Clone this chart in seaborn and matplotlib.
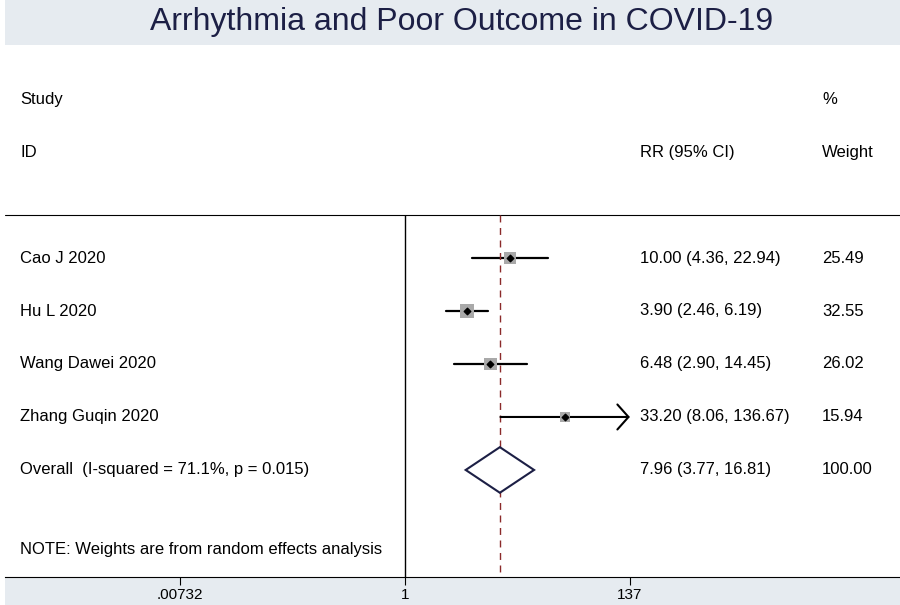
import numpy as np
import pandas as pd
import matplotlib.pyplot as plt
import matplotlib.transforms as mtransforms
from matplotlib.patches import Rectangle
import seaborn as sns

studies = ['Cao J 2020', 'Hu L 2020', 'Wang Dawei 2020', 'Zhang Guqin 2020']
rr = [10.00, 3.90, 6.48, 33.20]
lo = [4.36, 2.46, 2.90, 8.06]
hi = [22.94, 6.19, 14.45, 136.67]
weights = [25.49, 32.55, 26.02, 15.94]
overall = [7.96, 3.77, 16.81]
overall_label = 'Overall  (I-squared = 71.1%, p = 0.015)'
note = 'NOTE: Weights are from random effects analysis'
tick_vals = [0.00732, 1, 137]
tick_labels = ['.00732', '1', '137']

df = pd.DataFrame({'study': studies, 'rr': rr, 'lo': lo, 'hi': hi, 'w': weights})
df['row'] = np.arange(1, len(df) + 1)

sns.set_style('white')
plt.rcParams['font.family'] = ['Liberation Sans', 'DejaVu Sans']
plt.rcParams['text.color'] = 'black'
plt.rcParams['xtick.color'] = 'black'

bg = '#e6ebf0'
navy = '#1c1f45'
fig = plt.figure(figsize=(9, 6.05), dpi=100, facecolor=bg)
fig.patches.append(Rectangle((0, 0), 5 / 900, 1, transform=fig.transFigure,
                             facecolor='white', edgecolor='none', zorder=-1))

# axes: white panel from y=45 to 577 px, full width
ax = fig.add_axes([5 / 900, 28 / 605, 895 / 900, 532 / 605])
ax.set_facecolor('white')

ymin_line = 0.19
# CI lines (upper limit beyond the axis range gets an arrow)
for _, r in df.iterrows():
    if r['hi'] > 100:
        ax.annotate('', xy=(r['hi'], r['row']), xytext=(r['lo'], r['row']),
                    arrowprops=dict(arrowstyle='->,head_length=0.8,head_width=0.9',
                                    color='black', lw=1.5, shrinkA=0, shrinkB=0))
    else:
        ax.plot([r['lo'], r['hi']], [r['row'], r['row']], color='black', lw=1.6, zorder=2)

sns.scatterplot(data=df, x='rr', y='row', size='w', sizes=(0, 95), size_norm=(0, 32.55),
                marker='s', color='#a9a9a9', linewidth=0, legend=False, ax=ax, zorder=3)
ax.scatter(df['rr'], df['row'], marker='D', s=11, color='black', zorder=4)

# overall diamond
oy = 5
ax.fill([overall[1], overall[0], overall[2], overall[0], overall[1]],
        [oy, oy - 0.43, oy, oy + 0.43, oy], facecolor='white', edgecolor=navy, lw=1.5, zorder=3)

ax.set_xscale('log')
# 1 at x=405 px, 137 at 630 px
ppl = 225 / np.log(137)
ax.set_xlim(np.exp((5 - 405) / ppl), np.exp((900 - 405) / ppl))
ax.set_ylim(7.02, -3.02)
ax.set_xlabel('')
ax.set_ylabel('')
for s in ['top', 'left', 'right']:
    ax.spines[s].set_visible(False)
ax.spines['bottom'].set_color('black')
ax.spines['bottom'].set_linewidth(0.8)
ax.set_yticks([])
ax.set_xticks(tick_vals)
ax.set_xticklabels(tick_labels, fontsize=11, color='black')
ax.xaxis.set_minor_locator(plt.NullLocator())
ax.tick_params(axis='x', bottom=True, direction='out', length=5.5, width=0.8,
               color='black', pad=2.5)

ax.axhline(ymin_line, color='black', lw=0.8)
ax.vlines(1, ymin_line, 7.02, color='black', lw=1.0)
ax.vlines(overall[0], ymin_line, 7.02, color='#8b2a2a', lw=1.0, linestyles=(0, (5, 4)))

# text columns
tr = mtransforms.blended_transform_factory(fig.transFigure, ax.transData)
fs = 12
x_lab, x_rr, x_w = 20 / 900, 640 / 900, 822 / 900
ax.text(x_lab, -2, 'Study', transform=tr, fontsize=fs, va='center')
ax.text(x_lab, -1, 'ID', transform=tr, fontsize=fs, va='center')
ax.text(x_rr, -1, 'RR (95% CI)', transform=tr, fontsize=fs, va='center')
ax.text(x_w, -2, '%', transform=tr, fontsize=fs, va='center')
ax.text(x_w, -1, 'Weight', transform=tr, fontsize=fs, va='center')
for _, r in df.iterrows():
    ax.text(x_lab, r['row'], r['study'], transform=tr, fontsize=fs, va='center')
    ax.text(x_rr, r['row'], f"{r['rr']:.2f} ({r['lo']:.2f}, {r['hi']:.2f})",
            transform=tr, fontsize=fs, va='center')
    ax.text(x_w, r['row'], f"{r['w']:.2f}", transform=tr, fontsize=fs, va='center')
ax.text(x_lab, oy, overall_label, transform=tr, fontsize=fs, va='center')
ax.text(x_rr, oy, f"{overall[0]:.2f} ({overall[1]:.2f}, {overall[2]:.2f})",
        transform=tr, fontsize=fs, va='center')
ax.text(x_w, oy, '100.00', transform=tr, fontsize=fs, va='center')
ax.text(x_lab, 6.5, note, transform=tr, fontsize=fs, va='center')

fig.text(462 / 900, 1 - 22 / 605, 'Arrhythmia and Poor Outcome in COVID-19',
         ha='center', va='center', fontsize=23, color=navy)

fig.savefig('out.png', dpi=100, facecolor=bg)
